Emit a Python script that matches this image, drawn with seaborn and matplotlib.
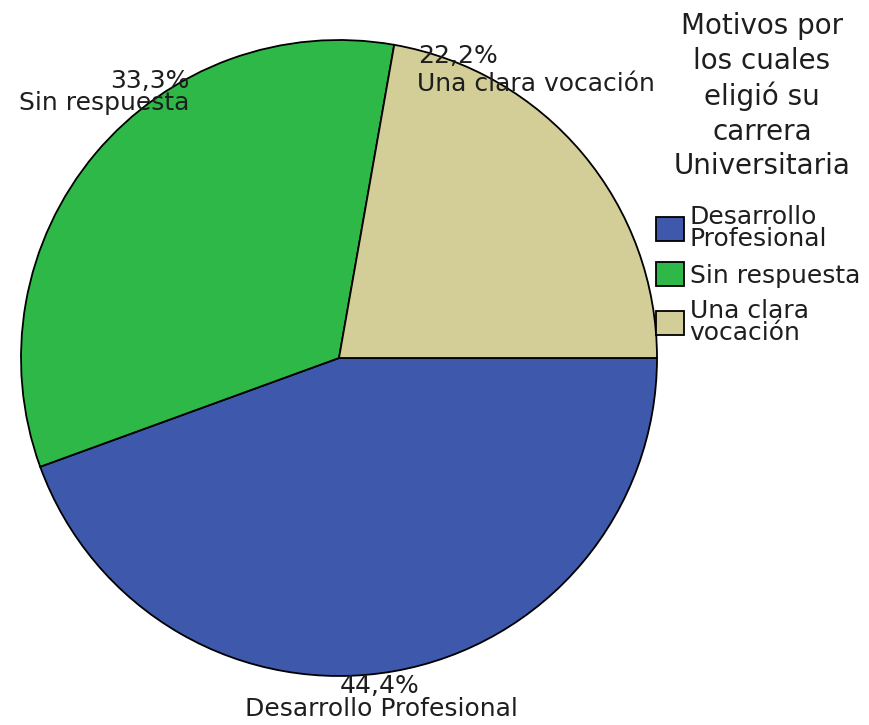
import matplotlib
matplotlib.use('Agg')
import matplotlib.pyplot as plt
import seaborn as sns

categories = ['Desarrollo Profesional', 'Sin respuesta', 'Una clara vocación']
legend_labels = ['Desarrollo\nProfesional', 'Sin respuesta', 'Una clara\nvocación']
percent = [44.4, 33.3, 22.2]
colors = ['#3E58AC', '#2EB848', '#D3CE97']
legend_title = 'Motivos por\nlos cuales\neligió su\ncarrera\nUniversitaria'

sns.set_theme(style='white')
plt.rcParams['font.family'] = ['DejaVu Sans']

fig = plt.figure(figsize=(8.69, 7.25), dpi=100)
ax = fig.add_axes([21 / 869, 49 / 725, 636 / 869, 636 / 725])

wedges, _ = ax.pie(percent, colors=colors, startangle=0, counterclock=False,
                   radius=1, wedgeprops={'edgecolor': 'black', 'linewidth': 1.3})
ax.set_xlim(-1, 1)
ax.set_ylim(-1, 1)
ax.set_aspect('equal')
ax.axis('off')

# slice labels (SPSS style: percent on top, category below)
fs = 18
tc = '#1e1e1e'
pct_txt = [f'{p:.1f}%'.replace('.', ',') for p in percent]
ax.text(0.129, -1.053, pct_txt[0], ha='center', va='baseline', fontsize=fs,
        color=tc, clip_on=False)
ax.text(0.132, -1.126, categories[0], ha='center', va='baseline', fontsize=fs,
        color=tc, clip_on=False)
ax.text(-0.469, 0.849, pct_txt[1], ha='right', va='baseline', fontsize=fs,
        color=tc)
ax.text(-0.469, 0.780, categories[1], ha='right', va='baseline', fontsize=fs,
        color=tc)
ax.text(0.248, 0.928, pct_txt[2], ha='left', va='baseline', fontsize=fs,
        color=tc)
ax.text(0.245, 0.840, categories[2], ha='left', va='baseline', fontsize=fs,
        color=tc)

# legend title drawn separately so it can be centred above the entries
fig.text(762 / 869, 1 - 12 / 725, legend_title, ha='center', va='top',
         multialignment='center', fontsize=20, linespacing=1.3, color=tc)

leg = fig.legend(wedges, legend_labels,
                 loc='upper left', bbox_to_anchor=(656 / 869, 1 - 205 / 725),
                 frameon=False, fontsize=fs,
                 handlelength=1.1, handleheight=1.1, handletextpad=0.25,
                 labelspacing=0.45, borderpad=0, borderaxespad=0)
for t in leg.get_texts():
    t.set_linespacing(0.9)
    t.set_color(tc)

fig.savefig('out.png', dpi=100)
